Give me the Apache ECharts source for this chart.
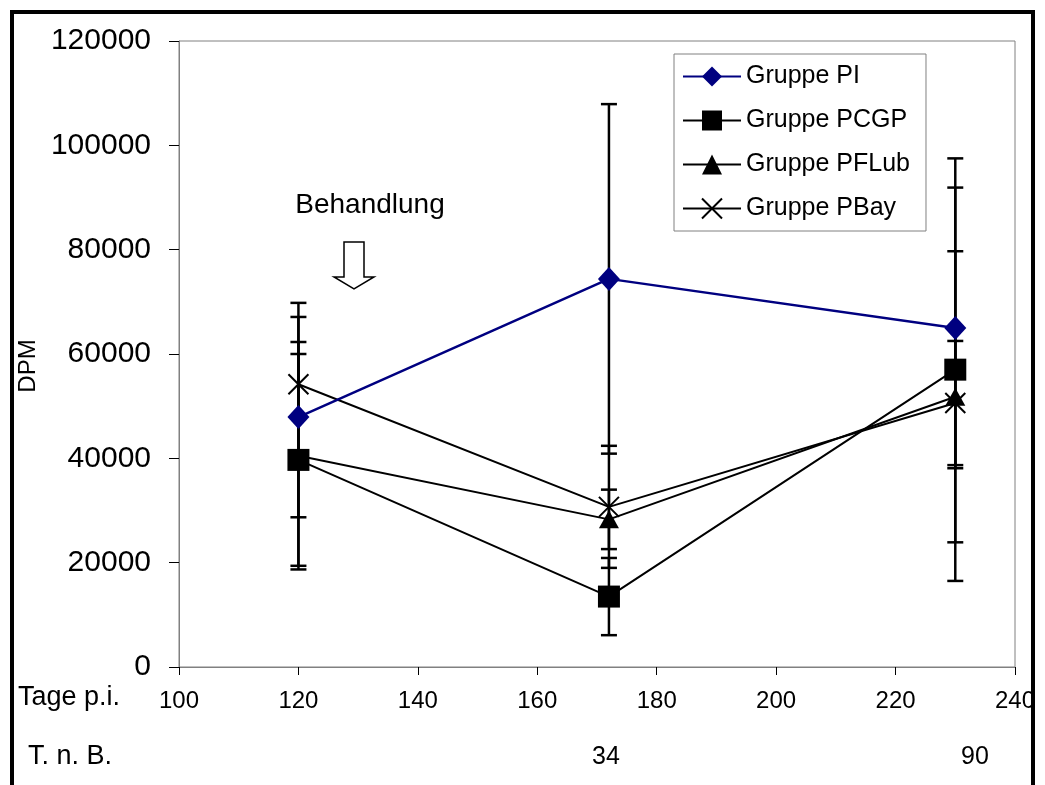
<!DOCTYPE html>
<html>
<head>
<meta charset="utf-8">
<script src="https://cdn.jsdelivr.net/npm/echarts@6/dist/echarts.min.js"></script>
<style>
  html, body { margin: 0; padding: 0; background: #fff; }
  #chart { width: 1045px; height: 785px; }
</style>
</head>
<body>
<div id="chart"></div>
<script>
// Tage p.i.
var days = [120, 172, 230];

// Mittelwerte (DPM) und Fehler je Gruppe
var piMean    = [47900, 74400, 65000];
var piErr     = [19200, 33500, 26900];
var pcgpMean  = [39700, 13500, 57000];
var pcgpErr   = [20300, 7400, 40500];
var pflubMean = [40500, 28300, 51800];
var pflubErr  = [21800, 5700, 27900];
var pbayMean  = [54200, 30700, 50600];
var pbayErr   = [15600, 11700, 11900];

var xTicks = [100, 120, 140, 160, 180, 200, 220, 240];
var yTicks = [0, 20000, 40000, 60000, 80000, 100000, 120000];

var FONT = '"Liberation Sans", Arial, sans-serif';

function pairs(mean) {
    var out = []
    for (var i = 0; i < days.length; i++) out.push([days[i], mean[i]])
    return out
}

function errData(mean, err) {
    var out = []
    for (var i = 0; i < days.length; i++) out.push([days[i], mean[i] - err[i], mean[i] + err[i]])
    return out
}

function renderErr(params, api) {
    var x = api.value(0)
    var lo = api.coord([x, api.value(1)])
    var hi = api.coord([x, api.value(2)])
    var w = 8
    var st = { stroke: '#000', lineWidth: 2.5 }
    return {
        type: 'group',
        children: [
            { type: 'line', shape: { x1: lo[0], y1: lo[1], x2: hi[0], y2: hi[1] }, style: st },
            { type: 'line', shape: { x1: lo[0] - w, y1: lo[1], x2: lo[0] + w, y2: lo[1] }, style: st },
            { type: 'line', shape: { x1: hi[0] - w, y1: hi[1], x2: hi[0] + w, y2: hi[1] }, style: st }
        ]
    }
}

function errSeries(mean, err) {
    return {
        type: 'custom',
        renderItem: renderErr,
        data: errData(mean, err),
        z: 1,
        silent: true,
        encode: { x: 0, y: [1, 2] }
    }
}

var crossPath = 'path://M0,0 L10,10 M10,0 L0,10';

var myChart = echarts.init(document.getElementById('chart'));

var option = {
    animation: false,
    textStyle: { fontFamily: FONT },
    grid: {
        left: 179, right: 30, top: 41, bottom: 118,
        show: true, borderColor: '#808080', borderWidth: 1
    },
    legend: {
        orient: 'vertical',
        left: 674, top: 54,
        padding: [10, 16, 10, 8],
        backgroundColor: '#fff',
        borderColor: '#808080',
        borderWidth: 1,
        itemWidth: 58,
        itemHeight: 25,
        itemGap: 19,
        textStyle: { fontSize: 25, color: '#000', fontFamily: FONT },
        data: ['Gruppe PI', 'Gruppe PCGP', 'Gruppe PFLub', 'Gruppe PBay']
    },
    xAxis: {
        type: 'value',
        min: 100, max: 240, interval: 20,
        axisLine: { lineStyle: { color: '#808080', width: 1 } },
        axisTick: { inside: false, length: 8, lineStyle: { color: '#000' } },
        axisLabel: { fontSize: 24, color: '#000', margin: 22, fontFamily: FONT,
            formatter: function (v) { return xTicks.indexOf(v) >= 0 ? String(v) : '' } },
        splitLine: { show: false }
    },
    yAxis: {
        type: 'value',
        min: 0, max: 120000, interval: 20000,
        name: 'DPM',
        nameLocation: 'middle',
        nameGap: 135,
        nameTextStyle: { fontSize: 24, color: '#000', fontFamily: FONT, padding: [0, 24, 0, 0] },
        axisLine: { show: true, lineStyle: { color: '#808080', width: 1 } },
        axisTick: { show: true, inside: false, length: 10, lineStyle: { color: '#000' } },
        axisLabel: { fontSize: 30, color: '#000', margin: 28, fontFamily: FONT,
            formatter: function (v) { return yTicks.indexOf(v) >= 0 ? String(v) : '' } },
        splitLine: { show: false }
    },
    series: [
        errSeries(piMean, piErr),
        errSeries(pcgpMean, pcgpErr),
        errSeries(pflubMean, pflubErr),
        errSeries(pbayMean, pbayErr),
        {
            name: 'Gruppe PI', type: 'line', data: pairs(piMean), z: 5,
            symbol: 'diamond', symbolSize: [22, 24],
            lineStyle: { color: '#000080', width: 2.5 },
            itemStyle: { color: '#000080' }
        },
        {
            name: 'Gruppe PCGP', type: 'line', data: pairs(pcgpMean), z: 4,
            symbol: 'rect', symbolSize: 22,
            lineStyle: { color: '#000', width: 2 },
            itemStyle: { color: '#000' }
        },
        {
            name: 'Gruppe PFLub', type: 'line', data: pairs(pflubMean), z: 3,
            symbol: 'triangle', symbolSize: [20, 18],
            lineStyle: { color: '#000', width: 2 },
            itemStyle: { color: '#000' }
        },
        {
            name: 'Gruppe PBay', type: 'line', data: pairs(pbayMean), z: 4,
            symbol: crossPath, symbolSize: 20,
            lineStyle: { color: '#000', width: 2 },
            itemStyle: { color: 'transparent', borderColor: '#000', borderWidth: 2 }
        }
    ],
    graphic: [
        { type: 'rect', shape: { x: 12, y: 12, width: 1021, height: 820 },
          style: { fill: 'none', stroke: '#000', lineWidth: 4 }, z: 100 },
        { type: 'text', x: 370, y: 205,
          style: { text: 'Behandlung', font: '28px ' + FONT, fill: '#000', textAlign: 'center', textVerticalAlign: 'middle' } },
        { type: 'polygon',
          shape: { points: [[344, 242], [364, 242], [364, 277], [374, 277], [354, 289], [334, 277], [344, 277]] },
          style: { fill: '#fff', stroke: '#000', lineWidth: 1.5 } },
        { type: 'text', x: 18, y: 698,
          style: { text: 'Tage p.i.', font: '27px ' + FONT, fill: '#000', textVerticalAlign: 'middle' } },
        { type: 'text', x: 28, y: 757,
          style: { text: 'T. n. B.', font: '27px ' + FONT, fill: '#000', textVerticalAlign: 'middle' } },
        { type: 'text', x: 606, y: 757,
          style: { text: '34', font: '25px ' + FONT, fill: '#000', textAlign: 'center', textVerticalAlign: 'middle' } },
        { type: 'text', x: 975, y: 757,
          style: { text: '90', font: '25px ' + FONT, fill: '#000', textAlign: 'center', textVerticalAlign: 'middle' } }
    ]
};

myChart.setOption(option);
</script>
</body>
</html>
